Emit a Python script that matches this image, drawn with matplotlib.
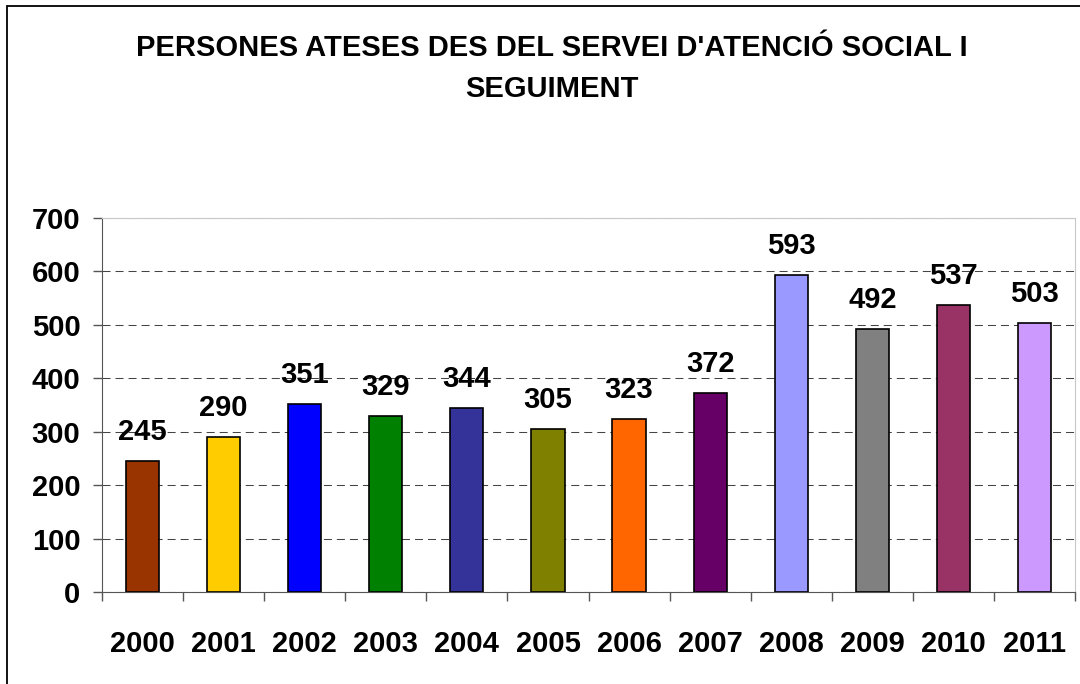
import matplotlib
matplotlib.use("Agg")
import matplotlib.pyplot as plt
from matplotlib.patches import Rectangle
from matplotlib.ticker import MultipleLocator, FixedLocator

plt.rcParams['font.family'] = ['Liberation Sans', 'DejaVu Sans']

# data
years = ['2000', '2001', '2002', '2003', '2004', '2005',
         '2006', '2007', '2008', '2009', '2010', '2011']
persons = [245, 290, 351, 329, 344, 305, 323, 372, 593, 492, 537, 503]
bar_colors = ['#993300', '#FFCC00', '#0000FF', '#008000', '#333399', '#808000',
              '#FF6600', '#660066', '#9999FF', '#808080', '#993366', '#CC99FF']

title = "PERSONES ATESES DES DEL SERVEI D'ATENCIÓ SOCIAL I\nSEGUIMENT"

W, H = 1080, 684
FS = 21
fig = plt.figure(figsize=(W / 100, H / 100), dpi=100)
ax = fig.add_axes([102 / W, 1 - 592 / H, (1075 - 102) / W, (592 - 218) / H])

x = list(range(len(years)))
ax.bar(x, persons, width=0.41, color=bar_colors, edgecolor='black', linewidth=1.2, zorder=3)

for xi, v in zip(x, persons):
    ax.annotate(str(v), (xi, v), xytext=(0, 15.5), textcoords='offset points',
                ha='center', va='baseline', fontsize=FS, fontweight='bold')

ax.set_xlim(-0.5, len(years) - 0.5)
ax.set_ylim(0, 700)
ax.yaxis.set_major_locator(MultipleLocator(100))
ax.yaxis.grid(True, color='#444444', linestyle=(0, (7.7, 4.8)), linewidth=0.75, zorder=1)

ax.set_xticks(x)
ax.set_xticklabels(years, fontsize=FS, fontweight='bold')
ax.xaxis.set_minor_locator(FixedLocator([i - 0.5 for i in range(len(years) + 1)]))
ax.tick_params(axis='x', which='major', length=0, pad=27)
ax.tick_params(axis='x', which='minor', length=6.5, width=1, color='#555555', direction='out')
ax.tick_params(axis='y', length=6.5, width=1, color='#555555', pad=9, labelsize=FS)
for lab in ax.get_yticklabels():
    lab.set_fontweight('bold')

ax.spines['left'].set_color('#555555')
ax.spines['bottom'].set_color('#555555')
ax.spines['top'].set_color('#c8c8c8')
ax.spines['right'].set_color('#c8c8c8')

fig.text(552 / W, 1 - 34 / H, title, ha='center', va='top', fontsize=FS,
         fontweight='bold', linespacing=1.58)

# outer chart frame (only top and left edges are inside the picture)
fig.add_artist(Rectangle((7 / W, -0.1), 1.2, 1.1 - 6 / H, transform=fig.transFigure,
                         fill=False, edgecolor='black', linewidth=1.3))

fig.savefig('out.png', dpi=100)
